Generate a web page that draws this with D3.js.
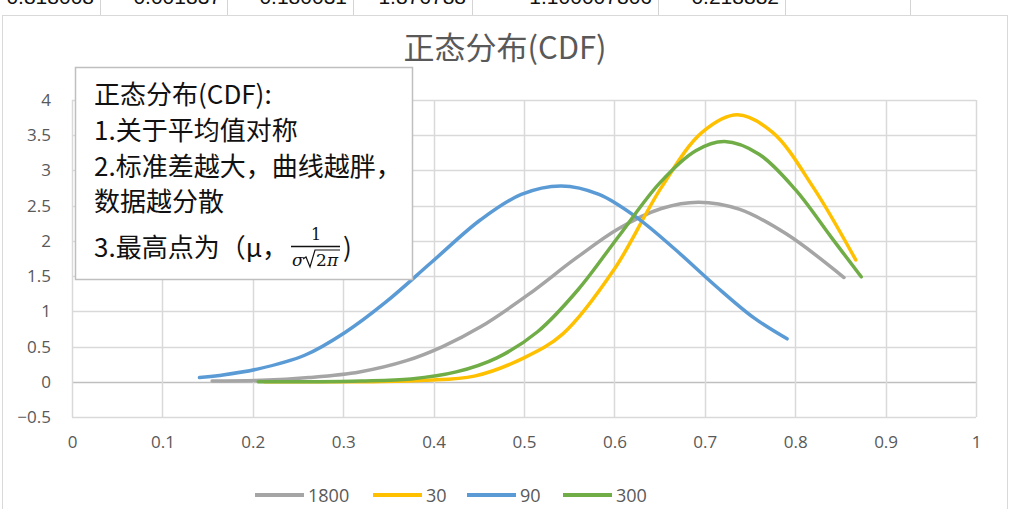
<!DOCTYPE html>
<html><head><meta charset="utf-8">
<script src="https://cdn.jsdelivr.net/npm/d3@7"></script>
<style>html,body{margin:0;padding:0;background:#fff;overflow:hidden}svg{display:block}</style>
</head><body>
<script>
// ---- data ----
const seriesNames = ["1800", "30", "90", "300"];
const seriesColors = ["#a5a5a5", "#ffc000", "#5b9bd5", "#70ad47"];
const x1800 = [0.155, 0.21, 0.262, 0.318, 0.37, 0.41, 0.452, 0.505, 0.556, 0.604, 0.652, 0.693, 0.738, 0.79, 0.854];
const y1800 = [0.01, 0.02, 0.06, 0.14, 0.30, 0.50, 0.78, 1.24, 1.74, 2.17, 2.46, 2.55, 2.45, 2.10, 1.48];
const x30 = [0.213, 0.27, 0.33, 0.39, 0.445, 0.5, 0.543, 0.6, 0.652, 0.697, 0.736, 0.775, 0.82, 0.867];
const y30 = [0.00, 0.00, 0.00, 0.02, 0.08, 0.34, 0.68, 1.60, 2.76, 3.54, 3.79, 3.54, 2.76, 1.73];
const x90 = [0.141, 0.163, 0.205, 0.258, 0.302, 0.347, 0.398, 0.452, 0.497, 0.541, 0.583, 0.626, 0.668, 0.712, 0.754, 0.791];
const y90 = [0.06, 0.09, 0.18, 0.38, 0.70, 1.13, 1.70, 2.30, 2.66, 2.78, 2.66, 2.32, 1.87, 1.36, 0.91, 0.61];
const x300 = [0.206, 0.26, 0.32, 0.375, 0.425, 0.47, 0.515, 0.56, 0.605, 0.65, 0.69, 0.722, 0.76, 0.8, 0.84, 0.873];
const y300 = [0.00, 0.00, 0.01, 0.04, 0.14, 0.34, 0.71, 1.31, 2.07, 2.82, 3.28, 3.41, 3.23, 2.73, 2.05, 1.49];
const xTicks = [0, 0.1, 0.2, 0.3, 0.4, 0.5, 0.6, 0.7, 0.8, 0.9, 1];
const yTicks = [-0.5, 0, 0.5, 1, 1.5, 2, 2.5, 3, 3.5, 4];
const titleText = "正态分布(CDF)";
const noteLines = ["正态分布(CDF):", "1.关于平均值对称", "2.标准差越大，曲线越胖，", "数据越分散"];
const noteLast = "3.最高点为（μ，";
const cellValues = ["0.818008", "0.001837", "0.180031", "1.876788", "1.100007806", "0.218882"];

const seriesX = [x1800, x30, x90, x300];
const seriesY = [y1800, y30, y90, y300];

// ---- drawing ----
const W = 1024, H = 509;
const svg = d3.select("body").append("svg").attr("width", W).attr("height", H);
const CJK = "'Noto Sans CJK SC','Noto Sans',sans-serif";
const LAT = "'Open Sans','Noto Sans',sans-serif";

// spreadsheet residue on top (cut by the chart, as in the source)
const cellRights = [100, 227, 353, 472, 658, 785];
const cellSeps = [100, 227, 353, 472, 658, 785, 910];
svg.selectAll("line.cell").data(cellSeps).join("line")
  .attr("x1", d => d + 0.5).attr("x2", d => d + 0.5).attr("y1", 0).attr("y2", 15)
  .attr("stroke", "#d4d4d4");
svg.selectAll("text.cell").data(cellValues).join("text")
  .attr("x", (d, i) => cellRights[i] - 6).attr("y", 4)
  .attr("text-anchor", "end").attr("font-family", "'Liberation Sans',Arial,sans-serif")
  .attr("font-size", 21).attr("fill", "#111").text(d => d);

// chart area
svg.append("rect").attr("x", 2.5).attr("y", 15.5).attr("width", 1005).attr("height", 520)
  .attr("fill", "#fff").attr("stroke", "#d9d9d9");

const x = d3.scaleLinear().domain([0, 1]).range([72, 976]);
const y = d3.scaleLinear().domain([-0.5, 4]).range([417, 100]);

// gridlines
const g = svg.append("g");
g.selectAll("line.h").data(yTicks).join("line")
  .attr("x1", x(0)).attr("x2", x(1))
  .attr("y1", d => Math.round(y(d)) + 0.5).attr("y2", d => Math.round(y(d)) + 0.5)
  .attr("stroke", d => d === 0 ? "#bfbfbf" : "#d9d9d9").attr("stroke-width", 1.5);
g.selectAll("line.v").data(xTicks).join("line")
  .attr("x1", d => Math.round(x(d)) + 0.5).attr("x2", d => Math.round(x(d)) + 0.5)
  .attr("y1", y(4)).attr("y2", y(-0.5))
  .attr("stroke", "#d9d9d9").attr("stroke-width", 1.5);

// axes labels
const xAxis = d3.axisBottom(x).tickValues(xTicks).tickSize(0).tickFormat(d3.format("~g"));
const xa = svg.append("g").attr("transform", `translate(0,${y(-0.5) + 16})`).call(xAxis);
xa.select(".domain").remove();
xa.selectAll("text").attr("font-family", LAT).attr("font-size", 17).attr("fill", "#595959");
const yAxis = d3.axisLeft(y).tickValues(yTicks).tickSize(0).tickFormat(d3.format("~g"));
const ya = svg.append("g").attr("transform", `translate(${x(0) - 18},0)`).call(yAxis);
ya.select(".domain").remove();
ya.selectAll("text").attr("font-family", LAT).attr("font-size", 17).attr("fill", "#595959");

// lines
const line = d3.line().x(d => x(d[0])).y(d => y(d[1])).curve(d3.curveCatmullRom.alpha(0.5));
seriesNames.forEach((name, i) => {
  const pts = seriesX[i].map((v, j) => [v, seriesY[i][j]]);
  svg.append("path").datum(pts).attr("d", line).attr("fill", "none")
    .attr("stroke", seriesColors[i]).attr("stroke-width", 3.5).attr("stroke-linecap", "round");
});

// title
svg.append("text").attr("x", 505).attr("y", 59).attr("text-anchor", "middle")
  .attr("font-family", CJK).attr("font-size", 31).attr("fill", "#595959").text(titleText);

// note box
svg.append("rect").attr("x", 75.5).attr("y", 67.5).attr("width", 337).attr("height", 212)
  .attr("fill", "#fff").attr("stroke", "#bfbfbf").attr("stroke-width", 1.5);
const noteY = [104, 140, 176, 211];
svg.selectAll("text.note").data(noteLines).join("text")
  .attr("x", 94).attr("y", (d, i) => noteY[i])
  .attr("font-family", CJK).attr("font-size", 26).attr("fill", "#111").text(d => d);
svg.append("text").attr("x", 94).attr("y", 257)
  .attr("font-family", CJK).attr("font-size", 26).attr("fill", "#111").text(noteLast);
// fraction 1/(σ√2π)
const serif = "'DejaVu Serif','Liberation Serif',serif";
svg.append("text").attr("x", 316).attr("y", 240).attr("text-anchor", "middle")
  .attr("font-family", serif).attr("font-size", 16).attr("fill", "#111").text("1");
svg.append("line").attr("x1", 291).attr("x2", 340).attr("y1", 246.5).attr("y2", 246.5)
  .attr("stroke", "#111").attr("stroke-width", 1.3);
svg.append("text").attr("x", 292).attr("y", 266)
  .attr("font-family", serif).attr("font-size", 17).attr("font-style", "italic").attr("fill", "#111").text("σ");
svg.append("path").attr("d", "M303,259 L306,257 L310,267 L315,250 L340,250")
  .attr("fill", "none").attr("stroke", "#111").attr("stroke-width", 1.2);
svg.append("text").attr("x", 316).attr("y", 266)
  .attr("font-family", serif).attr("font-size", 17).attr("fill", "#111").text("2");
svg.append("text").attr("x", 327).attr("y", 266)
  .attr("font-family", serif).attr("font-size", 17).attr("font-style", "italic").attr("fill", "#111").text("π");
svg.append("text").attr("x", 343).attr("y", 257)
  .attr("font-family", CJK).attr("font-size", 26).attr("fill", "#111").text(")");

// legend
const legX = [255, 373, 467, 563];
const lg = svg.selectAll("g.leg").data(seriesNames).join("g")
  .attr("transform", (d, i) => `translate(${legX[i]},495)`);
lg.append("line").attr("x1", 0).attr("x2", 49).attr("y1", 0).attr("y2", 0)
  .attr("stroke", (d, i) => seriesColors[i]).attr("stroke-width", 4);
lg.append("text").attr("x", 53).attr("y", 7)
  .attr("font-family", LAT).attr("font-size", 18).attr("fill", "#595959")
  .text(d => d);
</script>
</body></html>
